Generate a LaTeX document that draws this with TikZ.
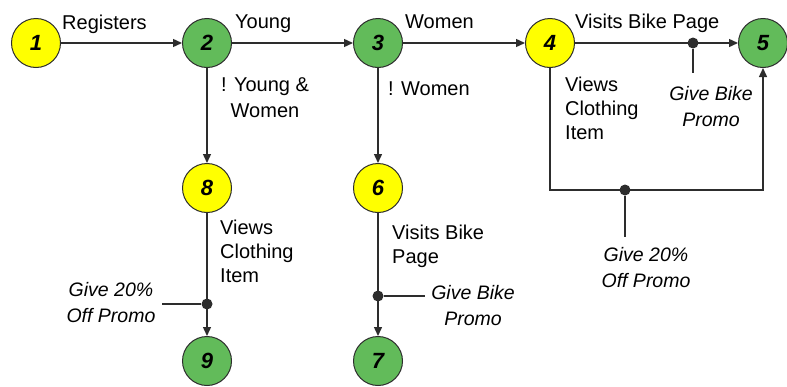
\documentclass[tikz,border=0pt]{standalone}
\usepackage{fontspec}
\setmainfont{Liberation Sans}
\usetikzlibrary{arrows.meta}
\definecolor{stateyellow}{RGB}{255,255,0}
\definecolor{stategreen}{RGB}{98,187,90}
\definecolor{edgegray}{RGB}{45,45,45}

\begin{document}
\begin{tikzpicture}[x=1pt,y=-1pt,
  state/.style={circle, draw=edgegray, line width=1pt, minimum size=49pt, inner sep=0pt,
    font=\fontsize{22}{22}\selectfont\bfseries\itshape},
  yesstate/.style={state, fill=stateyellow},
  grnstate/.style={state, fill=stategreen},
  flow/.style={draw=edgegray, line width=1.4pt, -{Triangle[length=9pt,width=8pt]}},
  wire/.style={draw=edgegray, line width=1.4pt},
  junction/.style={circle, fill=edgegray, inner sep=0pt, minimum size=11pt},
  lbl/.style={font=\fontsize{20}{24}\selectfont, inner sep=0pt, align=left},
  promo/.style={font=\fontsize{19.5}{26}\selectfont\itshape, inner sep=0pt, align=center},
]
\useasboundingbox (0,0) rectangle (787,386);

% states
\node[yesstate] (n1) at (36,43) {1};
\node[grnstate] (n2) at (207,43) {2};
\node[grnstate] (n3) at (378,43) {3};
\node[yesstate] (n4) at (550,43) {4};
\node[grnstate] (n5) at (763,43) {5};
\node[yesstate] (n8) at (207,188) {8};
\node[yesstate] (n6) at (378,188) {6};
\node[grnstate] (n9) at (207,361) {9};
\node[grnstate] (n7) at (378,361) {7};

% promo junctions and their stubs
\node[junction] (j45) at (693,43) {};
\node[junction] (j89) at (207,304) {};
\node[junction] (j67) at (378,296) {};
\node[junction] (j45b) at (625,190) {};
\coordinate (c4) at (n4.south |- j45b);
\coordinate (c5) at (n5.south |- j45b);
\coordinate (t45) at (693,73);
\coordinate (t89) at (162,304);
\coordinate (t67) at (425,296);
\coordinate (t45b) at (625,237);

% transitions
\draw[flow] (n1) -- (n2);
\draw[flow] (n2) -- (n3);
\draw[flow] (n3) -- (n4);
\draw[flow] (n4) -- (n5);
\draw[flow] (n2) -- (n8);
\draw[flow] (n3) -- (n6);
\draw[flow] (n8) -- (n9);
\draw[flow] (n6) -- (n7);
\draw[flow] (n4.south) -- (c4) -- (c5) -- (n5.south);

\draw[wire] (j45) -- (t45);
\draw[wire] (j89) -- (t89);
\draw[wire] (j67) -- (t67);
\draw[wire] (j45b) -- (t45b);

% transition labels
\node[lbl, anchor=north west] (lreg) at (62,15) {Registers};
\node[lbl, anchor=north west] (lyoung) at (235,15) {Young};
\node[lbl, anchor=north west] (lwomen) at (405,15) {Women};
\node[lbl, anchor=north west] (lbike) at (575,14) {Visits Bike Page};
\node[lbl, align=center, anchor=north, font=\fontsize{20}{26}\selectfont] (lnyoung) at (265,77) {! Young \&\\Women};
\node[lbl, anchor=north west] (lnwomen) at (388,82) {! Women};
\node[lbl, anchor=north west] (lview4) at (565,77) {Views\\Clothing\\Item};
\node[lbl, anchor=north west] (lview8) at (220,220) {Views\\Clothing\\Item};
\node[lbl, anchor=north west] (lbike6) at (392,225) {Visits Bike\\Page};

% promo labels
\node[promo, anchor=north] (p45) at (711,86) {Give Bike\\Promo};
\node[promo, anchor=north] (p45b) at (646,247) {Give 20\%\\Off Promo};
\node[promo, anchor=north] (p89) at (111,282) {Give 20\%\\Off Promo};
\node[promo, anchor=north] (p67) at (473,285) {Give Bike\\Promo};
\end{tikzpicture}
\end{document}
